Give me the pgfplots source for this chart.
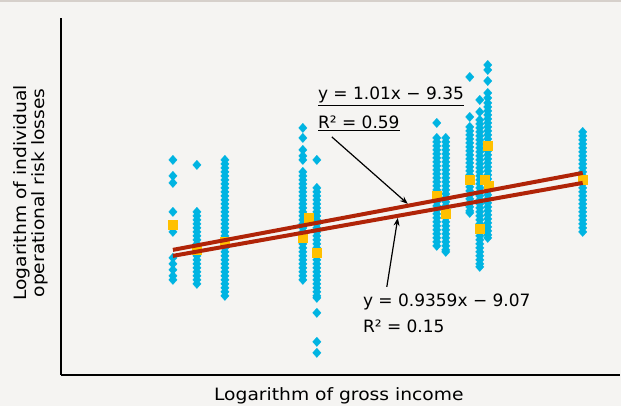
\documentclass[border=0pt]{standalone}
\usepackage{fontspec}
\setmainfont{DejaVu Sans}
\usepackage{graphicx}
\usepackage{pgfplots}
\usepackage{pgfplotstable}
\pgfplotsset{compat=1.18}
\usetikzlibrary{arrows.meta}

\definecolor{bg}{RGB}{245,244,242}
\definecolor{topband}{RGB}{214,208,203}
\definecolor{dots}{RGB}{0,180,226}
\definecolor{means}{RGB}{255,192,0}
\definecolor{fitred}{RGB}{176,36,8}

% scatter columns, y in pixels from the top
\pgfplotstableread[row sep=\\]{
x y \\
173 160 \\ 173 176 \\ 173 183 \\ 173 212 \\ 173 232 \\ 173 258 \\ 173 264 \\ 173 270 \\ 173 276 \\ 173 280 \\
197 165 \\ 197 212 \\ 197 216 \\ 197 220 \\ 197 224 \\ 197 228 \\ 197 232 \\ 197 236 \\ 197 240 \\ 197 244 \\
197 248 \\ 197 252 \\ 197 256 \\ 197 260 \\ 197 264 \\ 197 268 \\ 197 272 \\ 197 276 \\ 197 280 \\ 197 284 \\
225 160 \\ 225 164 \\ 225 168 \\ 225 172 \\ 225 176 \\ 225 180 \\ 225 184 \\ 225 188 \\ 225 192 \\ 225 196 \\
225 200 \\ 225 204 \\ 225 208 \\ 225 212 \\ 225 216 \\ 225 220 \\ 225 224 \\ 225 228 \\ 225 232 \\ 225 236 \\
225 240 \\ 225 244 \\ 225 248 \\ 225 252 \\ 225 256 \\ 225 260 \\ 225 264 \\ 225 268 \\ 225 272 \\ 225 276 \\
225 280 \\ 225 284 \\ 225 288 \\ 225 292 \\ 225 296 \\
303 128 \\ 303 138 \\ 303 150 \\ 303 156 \\ 303 160 \\ 303 172 \\ 303 176 \\ 303 180 \\ 303 184 \\ 303 188 \\
303 192 \\ 303 196 \\ 303 200 \\ 303 204 \\ 303 208 \\ 303 212 \\ 303 216 \\ 303 220 \\ 303 224 \\ 303 228 \\
303 232 \\ 303 236 \\ 303 240 \\ 303 244 \\ 303 248 \\ 303 252 \\ 303 256 \\ 303 260 \\ 303 264 \\ 303 268 \\
303 272 \\ 303 276 \\ 303 280 \\
317 160 \\ 317 188 \\ 317 192 \\ 317 196 \\ 317 200 \\ 317 204 \\ 317 208 \\ 317 212 \\ 317 216 \\ 317 220 \\
317 224 \\ 317 228 \\ 317 232 \\ 317 236 \\ 317 240 \\ 317 244 \\ 317 248 \\ 317 252 \\ 317 256 \\ 317 260 \\
317 264 \\ 317 268 \\ 317 272 \\ 317 276 \\ 317 280 \\ 317 284 \\ 317 288 \\ 317 292 \\ 317 296 \\ 317 298 \\
317 313 \\ 317 342 \\ 317 353 \\
437 123 \\ 437 138 \\ 437 142 \\ 437 146 \\ 437 150 \\ 437 154 \\ 437 158 \\ 437 162 \\ 437 166 \\ 437 170 \\
437 174 \\ 437 178 \\ 437 182 \\ 437 186 \\ 437 190 \\ 437 194 \\ 437 198 \\ 437 202 \\ 437 206 \\ 437 210 \\
437 214 \\ 437 218 \\ 437 222 \\ 437 226 \\ 437 230 \\ 437 234 \\ 437 238 \\ 437 242 \\ 437 246 \\
446 138 \\ 446 142 \\ 446 146 \\ 446 150 \\ 446 154 \\ 446 158 \\ 446 162 \\ 446 166 \\ 446 170 \\ 446 174 \\
446 178 \\ 446 182 \\ 446 186 \\ 446 190 \\ 446 194 \\ 446 198 \\ 446 202 \\ 446 206 \\ 446 210 \\ 446 214 \\
446 218 \\ 446 222 \\ 446 226 \\ 446 230 \\ 446 234 \\ 446 238 \\ 446 242 \\ 446 246 \\ 446 250 \\ 446 252 \\
470 77 \\ 470 117 \\ 470 127 \\ 470 131 \\ 470 135 \\ 470 139 \\ 470 143 \\ 470 147 \\ 470 151 \\ 470 155 \\
470 159 \\ 470 163 \\ 470 167 \\ 470 171 \\ 470 175 \\ 470 179 \\ 470 183 \\ 470 187 \\ 470 191 \\ 470 195 \\
470 199 \\ 470 203 \\ 470 207 \\ 470 211 \\ 470 213 \\
480 100 \\ 480 112 \\ 480 120 \\ 480 124 \\ 480 128 \\ 480 132 \\ 480 136 \\ 480 140 \\ 480 144 \\ 480 148 \\
480 152 \\ 480 156 \\ 480 160 \\ 480 164 \\ 480 168 \\ 480 172 \\ 480 176 \\ 480 180 \\ 480 184 \\ 480 188 \\
480 192 \\ 480 196 \\ 480 200 \\ 480 204 \\ 480 208 \\ 480 212 \\ 480 216 \\ 480 220 \\ 480 224 \\ 480 228 \\
480 232 \\ 480 236 \\ 480 240 \\ 480 244 \\ 480 248 \\ 480 252 \\ 480 256 \\ 480 260 \\ 480 264 \\ 480 267 \\
488 65 \\ 488 70 \\ 488 81 \\ 488 93 \\ 488 98 \\ 488 103 \\ 488 107 \\ 488 111 \\ 488 115 \\ 488 119 \\
488 123 \\ 488 127 \\ 488 131 \\ 488 135 \\ 488 139 \\ 488 143 \\ 488 147 \\ 488 151 \\ 488 155 \\ 488 159 \\
488 163 \\ 488 167 \\ 488 171 \\ 488 175 \\ 488 179 \\ 488 183 \\ 488 187 \\ 488 191 \\ 488 195 \\ 488 199 \\
488 203 \\ 488 207 \\ 488 211 \\ 488 215 \\ 488 219 \\ 488 223 \\ 488 227 \\ 488 231 \\ 488 235 \\ 488 238 \\
583 132 \\ 583 136 \\ 583 140 \\ 583 144 \\ 583 148 \\ 583 152 \\ 583 156 \\ 583 160 \\ 583 164 \\ 583 168 \\
583 172 \\ 583 176 \\ 583 180 \\ 583 184 \\ 583 188 \\ 583 192 \\ 583 196 \\ 583 200 \\ 583 204 \\ 583 208 \\
583 212 \\ 583 216 \\ 583 220 \\ 583 224 \\ 583 228 \\ 583 232 \\
}\losses

% group means
\pgfplotstableread[row sep=\\]{
x y \\
173 225 \\ 197 250 \\ 225 242 \\ 309 218 \\ 303 238 \\ 317 253 \\ 437 196 \\ 446 214 \\
470 180 \\ 480 229 \\ 485 180 \\ 488 146 \\ 489 186 \\ 583 180 \\
}\means

\begin{document}
\begin{tikzpicture}
\begin{axis}[
  set layers,
  x=1pt, y=1pt,
  xmin=61, xmax=620, ymin=-375, ymax=-18,
  axis x line*=bottom, axis y line*=left,
  axis line style={-, line width=2.6pt, black},
  xtick=\empty, ytick=\empty,
  clip=false,
]
\coordinate (tl) at (axis cs:0,0);
\coordinate (br) at (axis cs:621,-406);
\coordinate (tb) at (axis cs:621,-2);
\begin{pgfonlayer}{axis background}
  \fill[bg] (tl) rectangle (br);
  \fill[topband] (tl) rectangle (tb);
\end{pgfonlayer}

\addplot[only marks, mark=diamond*, mark size=4.7pt,
  mark options={solid, draw=dots, fill=dots, line width=0.2pt, xscale=1.2}]
  table[x=x, y expr=-\thisrow{y}] {\losses};
\addplot[only marks, mark=square*, mark size=4.4pt,
  mark options={solid, draw=means, fill=means, line width=0.2pt}]
  table[x=x, y expr=-\thisrow{y}] {\means};

\addplot[fitred, line width=4pt, on layer=axis foreground] coordinates {(173,-250) (583,-173)};
\addplot[fitred, line width=4pt, on layer=axis foreground] coordinates {(173,-256) (583,-183)};

\node[anchor=base west, inner sep=0pt, font=\fontsize{17}{20}\selectfont]
  at (axis cs:318,-100) {\underline{y = 1.01x − 9.35}};
\node[anchor=base west, inner sep=0pt, font=\fontsize{17}{20}\selectfont]
  at (axis cs:318,-129) {\underline{R² = 0.59}};
\node[anchor=base west, inner sep=0pt, font=\fontsize{17}{20}\selectfont]
  at (axis cs:363,-307) {y = 0.9359x − 9.07};
\node[anchor=base west, inner sep=0pt, font=\fontsize{17}{20}\selectfont]
  at (axis cs:363,-333) {R² = 0.15};

\draw[-{Stealth[length=8pt,width=6pt]}, line width=1.2pt]
  (axis cs:332,-137) -- (axis cs:408,-204);
\draw[-{Stealth[length=8pt,width=6pt]}, line width=1.2pt]
  (axis cs:387,-287) -- (axis cs:398,-218);

\node[anchor=base, inner sep=0pt, font=\fontsize{17}{20}\selectfont]
  at (axis cs:339,-401) {\scalebox{1.1}[1]{Logarithm of gross income}};
\node[rotate=90, align=center, inner sep=0pt, font=\fontsize{17}{17.5}\selectfont]
  at (axis cs:31,-193) {\scalebox{1.1}[1]{Logarithm of individual}\\\scalebox{1.1}[1]{operational risk losses}};
\end{axis}
\useasboundingbox (tl) rectangle (br);
\end{tikzpicture}
\end{document}
